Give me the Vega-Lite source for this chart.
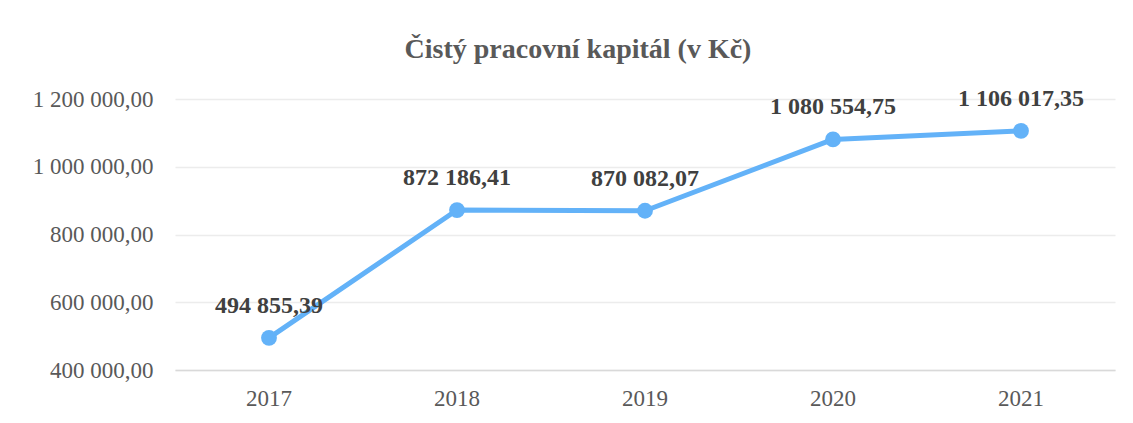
{
  "$schema": "https://vega.github.io/schema/vega-lite/v6.json",
  "width": 940,
  "height": 271,
  "autosize": "none",
  "padding": {"left": 175, "top": 99, "right": 18, "bottom": 53},
  "background": "white",
  "config": {
    "locale": {"number": {"decimal": ",", "thousands": " ", "grouping": [3], "currency": ["", " Kč"]}},
    "view": {"stroke": null},
    "font": "Liberation Serif"
  },
  "title": {
    "text": "Čistý pracovní kapitál (v Kč)",
    "font": "Liberation Serif",
    "fontSize": 28,
    "fontWeight": "bold",
    "color": "#595959",
    "anchor": "middle",
    "dx": -67,
    "offset": 23
  },
  "data": {
    "values": [
      {"rok": "2017", "hodnota": 494855.39},
      {"rok": "2018", "hodnota": 872186.41},
      {"rok": "2019", "hodnota": 870082.07},
      {"rok": "2020", "hodnota": 1080554.75},
      {"rok": "2021", "hodnota": 1106017.35}
    ]
  },
  "encoding": {
    "x": {
      "field": "rok",
      "type": "ordinal",
      "scale": {"type": "band", "paddingInner": 0, "paddingOuter": 0},
      "axis": {
        "title": null,
        "labelAngle": 0,
        "labelFont": "Liberation Serif",
        "labelFontSize": 23,
        "labelColor": "#595959",
        "labelPadding": 17,
        "ticks": false,
        "domainColor": "#d9d9d9",
        "domainWidth": 1.5,
        "grid": false
      }
    },
    "y": {
      "field": "hodnota",
      "type": "quantitative",
      "scale": {"domain": [400000, 1200000], "nice": false, "zero": false},
      "axis": {
        "title": null,
        "values": [400000, 600000, 800000, 1000000, 1200000],
        "format": ",.2f",
        "labelFont": "Liberation Serif",
        "labelFontSize": 23,
        "labelColor": "#595959",
        "labelPadding": 22,
        "ticks": false,
        "domain": false,
        "gridColor": "#ececec",
        "gridWidth": 1.5
      }
    }
  },
  "layer": [
    {
      "mark": {"type": "line", "color": "#63b2f8", "strokeWidth": 5, "strokeCap": "round", "strokeJoin": "round"}
    },
    {
      "mark": {"type": "point", "filled": true, "color": "#63b2f8", "opacity": 1, "size": 250}
    },
    {
      "mark": {"type": "text", "font": "Liberation Serif", "fontSize": 24, "fontWeight": "bold", "color": "#404040", "dy": -32, "baseline": "middle"},
      "encoding": {"text": {"field": "hodnota", "type": "quantitative", "format": ",.2f"}}
    }
  ]
}
